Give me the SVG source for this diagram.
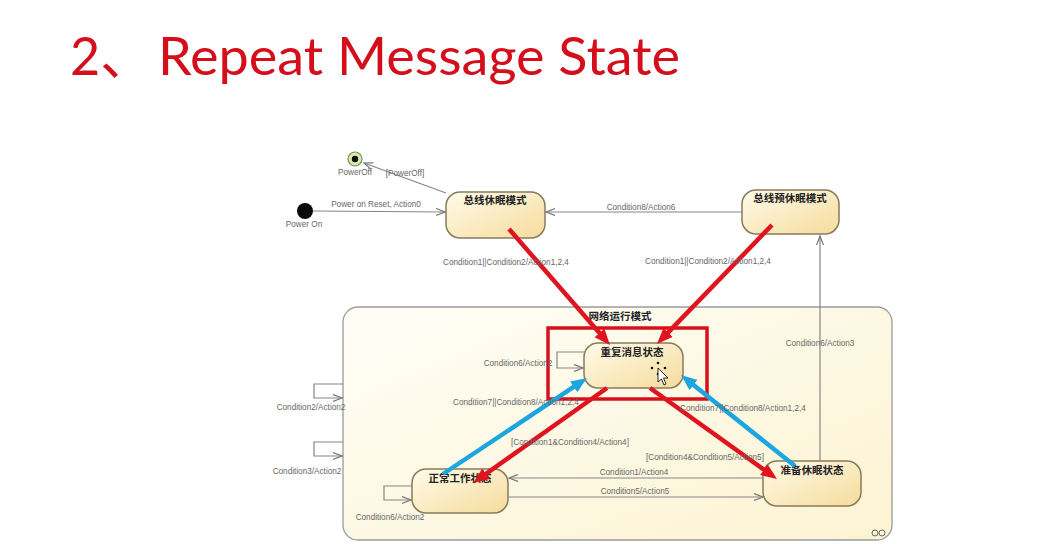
<svg xmlns="http://www.w3.org/2000/svg" width="1047" height="544" viewBox="0 0 1047 544">
  <style>
    .title { font-family: Lato, "Liberation Sans", "Noto Sans CJK SC", sans-serif; fill: #d40f1b; font-size: 52px; }
    .lbl { font-family: "Liberation Sans", Arial, sans-serif; font-size: 8.2px; fill: #666; }
    .name { font-family: "Noto Sans CJK SC", "Liberation Sans", sans-serif; font-size: 10.5px; font-weight: bold; fill: #222; }
    .state { fill: url(#stateFill); stroke: #8a7a5c; stroke-width: 1.5; }
    .thin { fill: none; stroke: #858585; stroke-width: 1.2; marker-end: url(#open); }
    .red { stroke: #e0141f; stroke-width: 4.5; fill: none; marker-end: url(#redHead); }
    .blue { stroke: #1ba6e0; stroke-width: 4.5; fill: none; marker-end: url(#blueHead); }
  </style>
  <defs>
    <linearGradient id="stateFill" x1="0" y1="0" x2="1" y2="1">
      <stop offset="0" stop-color="#fffbea"/>
      <stop offset="1" stop-color="#f6dc9c"/>
    </linearGradient>
    <linearGradient id="compFill" x1="0" y1="0" x2="1" y2="1">
      <stop offset="0" stop-color="#fffef7"/>
      <stop offset="1" stop-color="#fcf3d2"/>
    </linearGradient>
    <marker id="open" markerUnits="userSpaceOnUse" markerWidth="11" markerHeight="9" refX="9" refY="4" orient="auto">
      <path d="M0,0.5 L9,4 L0,7.5" fill="none" stroke="#777" stroke-width="1.2"/>
    </marker>
    <marker id="redHead" markerUnits="userSpaceOnUse" markerWidth="18" markerHeight="14" refX="4" refY="6.5" orient="auto">
      <path d="M0,0 L16,6.5 L0,13 z" fill="#e0141f"/>
    </marker>
    <marker id="blueHead" markerUnits="userSpaceOnUse" markerWidth="18" markerHeight="14" refX="4" refY="6.5" orient="auto">
      <path d="M0,0 L16,6.5 L0,13 z" fill="#1ba6e0"/>
    </marker>
  </defs>

  <rect width="1047" height="544" fill="#ffffff"/>

  <!-- heading -->
  <text class="title" x="70" y="75">2、</text>
  <text class="title" x="158" y="75" textLength="522" lengthAdjust="spacingAndGlyphs">Repeat Message State</text>

  <!-- composite state: network mode -->
  <g id="network-mode">
    <rect x="343" y="307" width="549" height="233" rx="15" fill="url(#compFill)" stroke="#9a9a9a" stroke-width="1.3"/>
    <text class="name" x="620" y="320" text-anchor="middle">网络运行模式</text>
    <g fill="none" stroke="#666" stroke-width="1">
      <circle cx="875" cy="533" r="3"/>
      <circle cx="882" cy="533" r="3"/>
    </g>
  </g>

  <!-- highlight frame -->
  <rect id="highlight" x="548" y="328" width="159" height="71" fill="none" stroke="#d8101c" stroke-width="3.5"/>

  <!-- pseudo states -->
  <g id="power-off">
    <circle cx="355" cy="159" r="7" fill="#d9ecb0" stroke="#7a8a5a" stroke-width="1.2"/>
    <circle cx="355" cy="159" r="3.2" fill="#111"/>
    <text class="lbl" x="355" y="175" text-anchor="middle">PowerOff</text>
  </g>
  <g id="power-on">
    <circle cx="305" cy="211" r="8" fill="#0a0a0a"/>
    <text class="lbl" x="304" y="227" text-anchor="middle">Power On</text>
  </g>

  <!-- states -->
  <g id="bus-sleep">
    <rect class="state" x="446" y="192" width="99" height="46" rx="14"/>
    <text class="name" x="495" y="204" text-anchor="middle">总线休眠模式</text>
  </g>
  <g id="prepare-bus-sleep">
    <rect class="state" x="742" y="190" width="97" height="44" rx="14"/>
    <text class="name" x="790" y="202" text-anchor="middle">总线预休眠模式</text>
  </g>
  <g id="repeat-message">
    <rect class="state" x="584" y="343" width="99" height="45" rx="14"/>
    <text class="name" x="632" y="356" text-anchor="middle">重复消息状态</text>
  </g>
  <g id="normal-operation">
    <rect class="state" x="412" y="469" width="96" height="44" rx="14"/>
    <text class="name" x="460" y="482" text-anchor="middle">正常工作状态</text>
  </g>
  <g id="ready-sleep">
    <rect class="state" x="763" y="461" width="98" height="45" rx="14"/>
    <text class="name" x="812" y="474" text-anchor="middle">准备休眠状态</text>
  </g>

  <!-- transitions -->
  <g id="connectors">
    <path class="thin" d="M446,193 L364,163"/>
    <path class="thin" d="M313,211 L445,212"/>
    <path class="thin" d="M742,212 L546,212"/>
    <path class="thin" d="M820,461 L820,236"/>
    <path class="thin" d="M763,478 L509,478"/>
    <path class="thin" d="M509,497 L763,497"/>
    <path class="thin" d="M584,352 H557 V368 H583"/>
    <path class="thin" d="M412,486 H384 V500 H411"/>
    <path class="thin" d="M343,384 H314 V398 H342"/>
    <path class="thin" d="M343,442 H314 V456 H342"/>

    <path class="red" d="M509,229 L602.1,335.9"/>
    <path class="red" d="M772,225 L665.3,335.4"/>
    <path class="red" d="M607,388 L482.8,476.1"/>
    <path class="red" d="M650,388 L767.2,472"/>
    <path class="blue" d="M443,474 L577,384.7"/>
    <path class="blue" d="M795,466 L690.4,382.5"/>

    <text class="lbl" x="405" y="176" text-anchor="middle">[PowerOff]</text>
    <text class="lbl" x="376" y="207" text-anchor="middle">Power on Reset, Action0</text>
    <text class="lbl" x="641" y="210" text-anchor="middle">Condition8/Action6</text>
    <text class="lbl" x="506" y="265" text-anchor="middle">Condition1||Condition2/Action1,2,4</text>
    <text class="lbl" x="708" y="264" text-anchor="middle">Condition1||Condition2/Action1,2,4</text>
    <text class="lbl" x="820" y="346" text-anchor="middle">Condition6/Action3</text>
    <text class="lbl" x="518" y="366" text-anchor="middle">Condition6/Action2</text>
    <text class="lbl" x="453" y="405">Condition7||Condition8/Action1,2,4</text>
    <text class="lbl" x="680" y="411">Condition7||Condition8/Action1,2,4</text>
    <text class="lbl" x="570" y="445" text-anchor="middle">[Condition1&amp;Condition4/Action4]</text>
    <text class="lbl" x="705" y="460" text-anchor="middle">[Condition4&amp;Condition5/Action5]</text>
    <text class="lbl" x="634" y="475" text-anchor="middle">Condition1/Action4</text>
    <text class="lbl" x="635" y="494" text-anchor="middle">Condition5/Action5</text>
    <text class="lbl" x="390" y="520" text-anchor="middle">Condition6/Action2</text>
    <text class="lbl" x="311" y="410" text-anchor="middle">Condition2/Action2</text>
    <text class="lbl" x="307" y="474" text-anchor="middle">Condition3/Action2</text>
  </g>

  <!-- pointer -->
  <g id="pointer">
    <g fill="#111">
      <circle cx="658" cy="363" r="1.3"/>
      <circle cx="652" cy="368" r="1.3"/>
      <circle cx="665" cy="368" r="1.3"/>
      <circle cx="658" cy="374" r="1.3"/>
    </g>
    <path d="M658,368 L658,382 L661.5,379 L664,385 L666,384 L663.5,378 L668,378 Z" fill="#fff" stroke="#111" stroke-width="0.9"/>
  </g>
</svg>
